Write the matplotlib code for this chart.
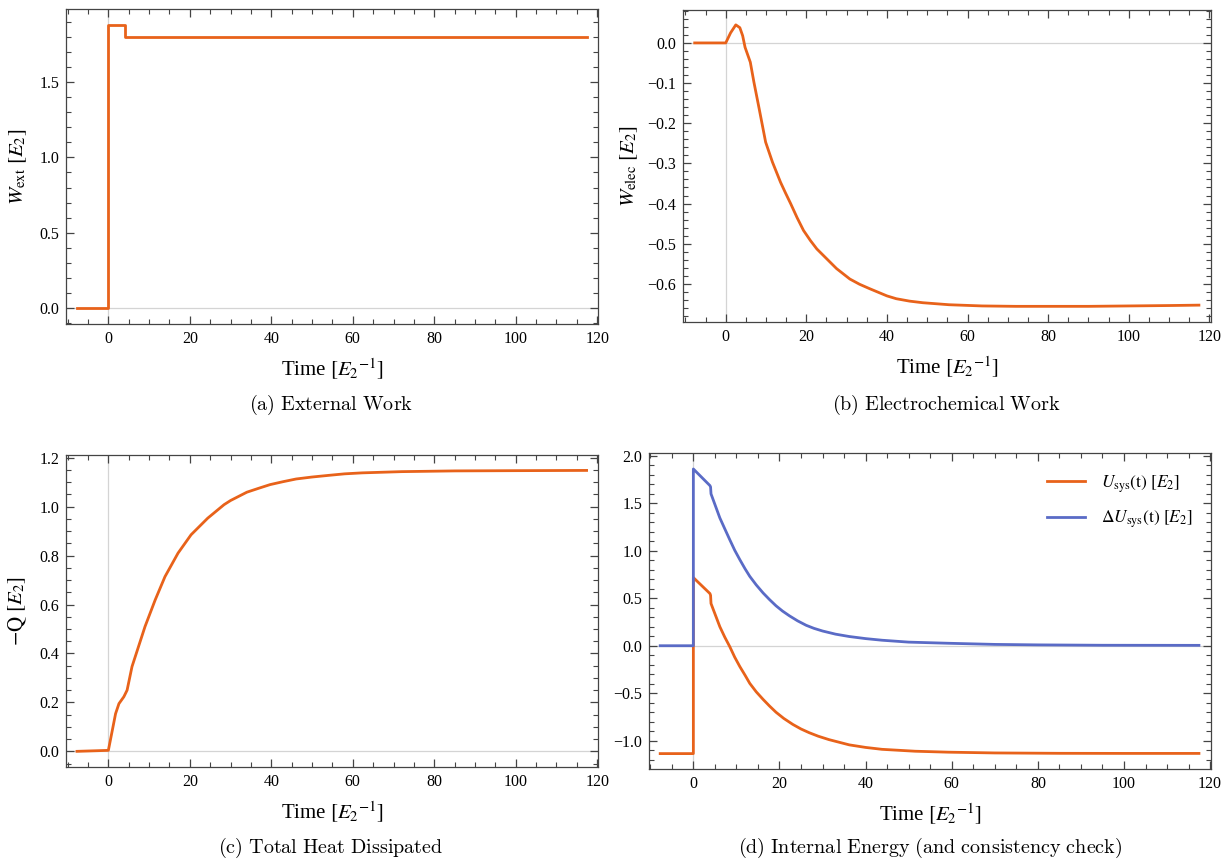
import matplotlib
matplotlib.use("Agg")
import matplotlib.pyplot as plt
from matplotlib.ticker import MultipleLocator, FuncFormatter

plt.rcParams['font.family'] = ['Liberation Serif', 'DejaVu Serif']
plt.rcParams['mathtext.fontset'] = 'stix'

ORANGE = '#E8621A'
BLUE = '#5A6BC6'
FRAME = '#444444'
ZERO = '#d4d4d4'

FIG_W, FIG_H = 1231, 859

# (a) external work
t_ext = [-7.7, 0.0, 0.0, 4.1, 4.1, 117.4]
w_ext = [0.0, 0.0, 1.88, 1.88, 1.80, 1.80]

# (b) electrochemical work
t_elec = [-7.7, 0.0, 1.2, 2.5, 3.5, 4.2, 4.8, 6.1, 7.0, 8.3, 9.9, 11.6, 13.6, 14.8,
          16.1, 17.7, 19.3, 21.0, 22.6, 25.9, 27.5, 30.8, 33.2, 35.7, 40.0, 42.3,
          45.6, 48.9, 55.4, 63.6, 72.0, 80.0, 90.0, 100.0, 110.0, 117.4]
w_elec = [0.0, 0.0, 0.025, 0.045, 0.038, 0.018, -0.011, -0.048, -0.098, -0.164,
          -0.247, -0.297, -0.347, -0.373, -0.400, -0.435, -0.467, -0.492, -0.513,
          -0.546, -0.562, -0.588, -0.601, -0.612, -0.630, -0.637, -0.643, -0.647,
          -0.652, -0.655, -0.656, -0.656, -0.656, -0.655, -0.654, -0.653]

# (c) total heat dissipated (-Q)
t_heat = [-7.7, 0.0, 0.97, 1.77, 2.6, 3.8, 4.6, 5.8, 7.4, 9.0, 11.5, 13.9, 17.1,
          20.3, 24.4, 28.4, 30.0, 34.0, 36.9, 39.7, 42.9, 46.1, 50.0, 54.2, 58.0,
          62.3, 72.0, 85.0, 100.0, 117.4]
neg_q = [0.0, 0.004, 0.086, 0.154, 0.195, 0.223, 0.25, 0.346, 0.428, 0.51, 0.619,
         0.714, 0.81, 0.885, 0.953, 1.008, 1.025, 1.059, 1.075, 1.09, 1.102, 1.113,
         1.121, 1.128, 1.134, 1.138, 1.143, 1.146, 1.147, 1.148]

# (d) internal energy and its change
t_u = [-7.7, 0.0, 0.0, 3.85, 4.0, 4.1, 6.15, 7.3, 8.46, 9.6, 10.8, 12.0, 13.1,
       14.6, 16.2, 17.7, 19.2, 21.0, 23.1, 25.0, 26.9, 29.0, 31.5, 36.2, 40.0,
       43.8, 51.5, 59.2, 70.0, 85.0, 100.0, 117.4]
u_sys = [-1.135, -1.135, 0.717, 0.549, 0.53, 0.444, 0.2, 0.09, -0.01, -0.12,
         -0.22, -0.31, -0.396, -0.485, -0.565, -0.635, -0.70, -0.765, -0.828,
         -0.876, -0.915, -0.952, -0.988, -1.043, -1.07, -1.09, -1.11, -1.12,
         -1.128, -1.132, -1.133, -1.133]
t_du = [-7.7, 0.0, 0.0, 3.85, 4.0, 4.1, 6.15, 7.3, 8.46, 9.6, 10.8, 12.0, 13.1,
        14.6, 16.2, 17.7, 19.2, 20.7, 22.3, 24.2, 26.2, 28.0, 30.0, 33.0, 36.2,
        40.0, 43.8, 50.0, 59.2, 70.0, 80.0, 95.0, 117.4]
du_sys = [0.0, 0.0, 1.86, 1.685, 1.67, 1.598, 1.345, 1.23, 1.115, 1.005, 0.905,
          0.81, 0.73, 0.64, 0.555, 0.485, 0.42, 0.365, 0.315, 0.262, 0.215, 0.183,
          0.155, 0.122, 0.097, 0.075, 0.058, 0.038, 0.026, 0.014, 0.009, 0.005,
          0.004]

XLABEL = r'Time $[E_2{}^{-1}]$'


def make_axes(left, top, right, bottom):
    return fig.add_axes([left / FIG_W, 1 - bottom / FIG_H,
                         (right - left) / FIG_W, (bottom - top) / FIG_H])


def minus_fmt(v, pos):
    return ('%.1f' % v).replace('-', '\u2212')


def style_axes(ax, xlim, ylim, ymajor, yminor):
    ax.set_xlim(*xlim)
    ax.set_ylim(*ylim)
    ax.axhline(0, color=ZERO, lw=0.9, zorder=1)
    ax.axvline(0, color=ZERO, lw=0.9, zorder=1)
    ax.xaxis.set_major_locator(MultipleLocator(20))
    ax.xaxis.set_minor_locator(MultipleLocator(5))
    ax.yaxis.set_major_locator(MultipleLocator(ymajor))
    ax.yaxis.set_minor_locator(MultipleLocator(yminor))
    ax.yaxis.set_major_formatter(FuncFormatter(minus_fmt))
    ax.tick_params(which='both', direction='in', top=True, right=True,
                   color=FRAME, labelsize=11.5, pad=5)
    ax.tick_params(which='major', length=6, width=0.9)
    ax.tick_params(which='minor', length=3.5, width=0.8)
    for sp in ax.spines.values():
        sp.set_color(FRAME)
        sp.set_linewidth(0.9)
    ax.set_xlabel(XLABEL, fontsize=15, labelpad=7)


def caption(x, y, text):
    fig.text(x / FIG_W, 1 - y / FIG_H, text, ha='center', va='center',
             fontsize=14.5, math_fontfamily='cm')


fig = plt.figure(figsize=(FIG_W / 100, FIG_H / 100), dpi=100)

# (a)
ax = make_axes(66, 9.5, 598, 324)
style_axes(ax, (-10.4, 120.2), (-0.105, 1.981), 0.5, 0.1)
ax.plot(t_ext, w_ext, color=ORANGE, lw=2.0, zorder=3)
ax.set_ylabel(r'$W_{\mathrm{ext}}\ [E_2]$', fontsize=15, labelpad=7)
caption(331, 405, r'$\mathrm{(a)\ External\ Work}$')

# (b)
ax = make_axes(683, 10, 1211, 322)
style_axes(ax, (-10.6, 120.4), (-0.695, 0.082), 0.1, 0.02)
ax.plot(t_elec, w_elec, color=ORANGE, lw=2.0, zorder=3)
ax.set_ylabel(r'$W_{\mathrm{elec}}\ [E_2]$', fontsize=15, labelpad=5)
caption(946, 405, r'$\mathrm{(b)\ Electrochemical\ Work}$')

# (c)
ax = make_axes(66, 455, 598, 767)
style_axes(ax, (-10.4, 120.2), (-0.064, 1.211), 0.2, 0.05)
ax.plot(t_heat, neg_q, color=ORANGE, lw=2.0, zorder=3)
ax.set_ylabel(r'$-\mathrm{Q}\ [E_2]$', fontsize=15, labelpad=7)
caption(331, 848, r'$\mathrm{(c)\ Total\ Heat\ Dissipated}$')

# (d)
ax = make_axes(649, 453, 1211, 769)
style_axes(ax, (-10.3, 120.2), (-1.297, 2.028), 0.5, 0.1)
ax.plot(t_u, u_sys, color=ORANGE, lw=2.0, zorder=3,
        label=r'$U_{\mathrm{sys}}(\mathrm{t})\ [E_2]$')
ax.plot(t_du, du_sys, color=BLUE, lw=2.0, zorder=3,
        label=r'$\Delta U_{\mathrm{sys}}(\mathrm{t})\ [E_2]$')
ax.legend(loc='upper right', bbox_to_anchor=(0.995, 0.985), frameon=False,
          fontsize=12.5, handlelength=2.2, labelspacing=0.8, handletextpad=0.9)
caption(930, 848, r'$\mathrm{(d)\ Internal\ Energy\ (and\ consistency\ check)}$')

fig.savefig('out.png', dpi=100)
